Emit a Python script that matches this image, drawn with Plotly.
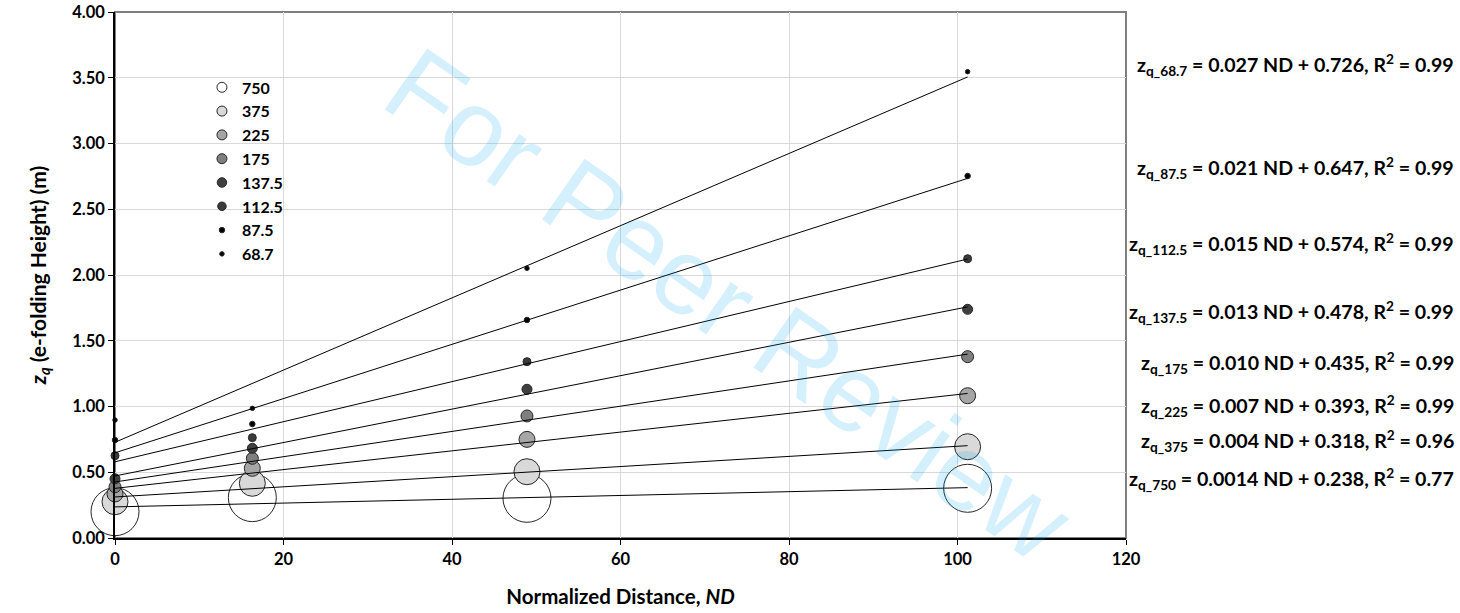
import numpy as np
import plotly.graph_objects as go

# ---- data ----
nd = [0, 16.3, 48.9, 101.2]
grain_labels = ["750", "375", "225", "175", "137.5", "112.5", "87.5", "68.7"]
zq_750 = [0.200, 0.307, 0.302, 0.378]
zq_375 = [0.276, 0.416, 0.504, 0.694]
zq_225 = [0.335, 0.530, 0.750, 1.082]
zq_175 = [0.390, 0.606, 0.928, 1.379]
zq_137_5 = [0.450, 0.682, 1.131, 1.739]
zq_112_5 = [0.626, 0.763, 1.341, 2.124]
zq_87_5 = [0.745, 0.867, 1.658, 2.753]
zq_68_7 = [0.897, 0.986, 2.051, 3.546]
series = [zq_750, zq_375, zq_225, zq_175, zq_137_5, zq_112_5, zq_87_5, zq_68_7]

eq_slopes = ["0.0014", "0.004", "0.007", "0.010", "0.013", "0.015", "0.021", "0.027"]
eq_intercepts = ["0.238", "0.318", "0.393", "0.435", "0.478", "0.574", "0.647", "0.726"]
eq_r2 = ["0.77", "0.96", "0.99", "0.99", "0.99", "0.99", "0.99", "0.99"]

# ---- styles ----
fills = ["#ffffff", "#d9d9d9", "#a6a6a6", "#7f7f7f", "#404040", "#3a3a3a", "#000000", "#000000"]
marker_sizes = [48, 26, 16, 12, 10, 8, 5.5, 4.5]
legend_sizes = [10, 10, 10, 10, 9.5, 8.5, 5.5, 4.5]
eq_label_y = [0.456, 0.745, 1.011, 1.338, 1.726, 2.243, 2.821, 3.597]

FONT = "Lato, 'Open Sans', Arial, sans-serif"

fig = go.Figure()

# bubbles
for lab, ys, fc, ms in zip(grain_labels, series, fills, marker_sizes):
    fig.add_trace(go.Scatter(
        x=nd, y=ys, mode="markers", showlegend=False, cliponaxis=False,
        marker=dict(size=ms, color=fc, line=dict(color="#262626", width=1)),
        name=lab, hoverinfo="x+y+name"))

# linear trend lines (least squares over the data)
for lab, ys in zip(grain_labels, series):
    m, b = np.polyfit(nd, ys, 1)
    xs = [min(nd), max(nd)]
    fig.add_trace(go.Scatter(
        x=xs, y=[m * xv + b for xv in xs], mode="lines", showlegend=False,
        cliponaxis=False, line=dict(color="black", width=1), hoverinfo="skip"))

# legend entries
for lab, fc, ls in zip(grain_labels, fills, legend_sizes):
    fig.add_trace(go.Scatter(
        x=[None], y=[None], mode="markers", name=lab,
        marker=dict(size=ls, color=fc, line=dict(color="#262626", width=1))))

# equation labels
for lab, s, c, r2, yl in zip(grain_labels, eq_slopes, eq_intercepts, eq_r2, eq_label_y):
    fig.add_annotation(
        xref="paper", yref="y", x=1.3264, y=yl, xanchor="right", yanchor="middle",
        text=f"z<sub>q_{lab}</sub> = {s} ND + {c}, R<sup>2</sup> = {r2}",
        showarrow=False, font=dict(family=FONT, size=19.6, color="black", weight="bold"))

# watermark
fig.add_annotation(
    xref="paper", yref="paper", x=0.607, y=0.443, xanchor="center", yanchor="middle",
    text="For Peer Review", textangle=35, showarrow=False,
    font=dict(family="'Liberation Sans', Arial, sans-serif", size=108, weight="normal",
              color="rgba(0,165,235,0.17)"))

# plot-area border (top/right grey)
fig.add_shape(type="rect", xref="paper", yref="paper", x0=0, x1=1, y0=0, y1=1,
              line=dict(color="#7f7f7f", width=2), layer="below")

fig.update_layout(
    width=1460, height=613,
    margin=dict(l=115, r=334, t=12, b=75),
    paper_bgcolor="white", plot_bgcolor="white",
    font=dict(family=FONT, color="black", weight="bold"),
    legend=dict(x=0.086, y=0.889, xanchor="left", yanchor="top",
                bgcolor="rgba(0,0,0,0)", font=dict(family=FONT, size=16, weight="bold"),
                itemsizing="trace", tracegroupgap=0),
    xaxis=dict(range=[0, 120], dtick=20, tick0=0, showgrid=True, gridcolor="#d9d9d9",
               gridwidth=1, showline=True, linecolor="black", linewidth=1.5,
               ticks="outside", ticklen=5, tickcolor="black", zeroline=False,
               automargin=False,
               tickfont=dict(family=FONT, size=16.5, weight="bold"),
               title=dict(text="Normalized Distance, <i>ND</i>", standoff=22,
                          font=dict(family=FONT, size=20.5, weight="bold"))),
    yaxis=dict(range=[0, 4], dtick=0.5, tick0=0, tickformat=".2f", showgrid=True,
               gridcolor="#d9d9d9", gridwidth=1, showline=True, linecolor="black",
               linewidth=1.5, ticks="outside", ticklen=5, tickcolor="black", zeroline=False,
               automargin=False,
               tickfont=dict(family=FONT, size=16.5, weight="bold"),
               title=dict(text="<i>z<sub>q</sub></i> (e-folding Height) (m)", standoff=20,
                          font=dict(family=FONT, size=21, weight="bold"))),
)

fig.write_html("out.html")
